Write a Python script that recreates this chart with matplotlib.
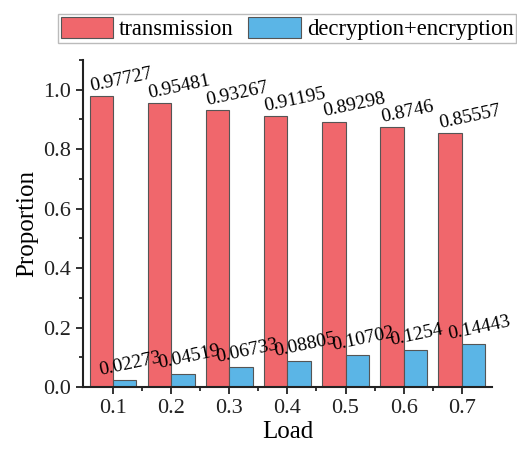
import numpy as np
import matplotlib.pyplot as plt
from matplotlib.ticker import MultipleLocator, FixedLocator

plt.rcParams['font.family'] = ['Liberation Serif', 'DejaVu Serif']

loads = ['0.1', '0.2', '0.3', '0.4', '0.5', '0.6', '0.7']
transmission = [0.97727, 0.95481, 0.93267, 0.91195, 0.89298, 0.8746, 0.85557]
crypto = [0.02273, 0.04519, 0.06733, 0.08805, 0.10702, 0.1254, 0.14443]
trans_labels = ['0.97727', '0.95481', '0.93267', '0.91195', '0.89298', '0.8746', '0.85557']
crypto_labels = ['0.02273', '0.04519', '0.06733', '0.08805', '0.10702', '0.1254', '0.14443']

red = '#f0676c'
blue = '#5bb5e6'

fig = plt.figure(figsize=(5.17, 4.51), dpi=100)
ax = fig.add_axes([0.1605, 0.142, 0.791, 0.725])

x = np.arange(len(loads))
w = 0.4
b1 = ax.bar(x - w / 2, transmission, w, color=red, edgecolor='#555555', linewidth=0.8,
            label='transmission')
b2 = ax.bar(x + w / 2, crypto, w, color=blue, edgecolor='#555555', linewidth=0.8,
            label='decryption+encryption')

for i in range(len(x)):
    ax.text(x[i] - 0.36, transmission[i] + 0.004, trans_labels[i], rotation=12,
            rotation_mode='anchor', ha='left', va='bottom', fontsize=14)
    ax.text(x[i] - 0.2, crypto[i] + 0.004, crypto_labels[i], rotation=12,
            rotation_mode='anchor', ha='left', va='bottom', fontsize=14)

ax.set_xlim(-0.52, 6.52)
ax.set_ylim(0, 1.1)
ax.set_xticks(x)
ax.set_xticklabels(loads)
ax.xaxis.set_minor_locator(FixedLocator(x[:-1] + 0.5))
ax.yaxis.set_major_locator(MultipleLocator(0.2))
ax.yaxis.set_minor_locator(MultipleLocator(0.1))
ax.set_yticklabels([f'{v:.1f}' for v in ax.get_yticks()])
ax.tick_params(axis='both', which='major', direction='out', length=5, width=1.3,
               labelsize=16, colors='#222222')
ax.tick_params(axis='both', which='minor', direction='out', length=3, width=1.1)

for s in ['top', 'right']:
    ax.spines[s].set_visible(False)
for s in ['left', 'bottom']:
    ax.spines[s].set_linewidth(1.5)
    ax.spines[s].set_color('#222222')

ax.set_xlabel('Load', fontsize=18, labelpad=2)
ax.set_ylabel('Proportion', fontsize=18, labelpad=4)

leg = fig.legend(handles=[b1, b2], loc='lower left', bbox_to_anchor=(0.112, 0.905),
                 ncol=2, fontsize=16.3, frameon=True, fancybox=False,
                 handlelength=2.3, handleheight=1.05, handletextpad=0.28,
                 columnspacing=0.65, borderpad=0.12, borderaxespad=0)
leg.get_frame().set_edgecolor('#aaaaaa')
leg.get_frame().set_linewidth(1.0)

fig.savefig('out.png', dpi=100)
